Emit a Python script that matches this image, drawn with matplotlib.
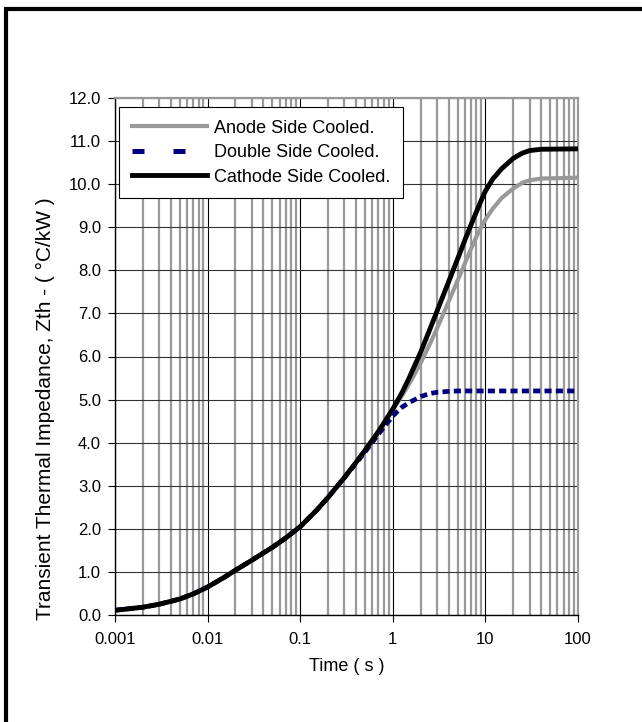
import matplotlib
matplotlib.use("Agg")
import matplotlib.pyplot as plt
from matplotlib.lines import Line2D
from matplotlib.ticker import FixedLocator, FixedFormatter, FormatStrFormatter, LogLocator

plt.rcParams['font.family'] = ['Liberation Sans', 'DejaVu Sans']

#------------------------------------------------------------------------------
# values (time in s, Zth in °C/kW)
t_common = [0.001, 0.002, 0.003, 0.005, 0.007, 0.01, 0.015, 0.02, 0.03, 0.05,
            0.07, 0.1, 0.15, 0.2, 0.3, 0.4, 0.5, 0.7]
z_common = [0.11, 0.18, 0.25, 0.37, 0.49, 0.65, 0.87, 1.04, 1.27, 1.57,
            1.79, 2.05, 2.43, 2.73, 3.19, 3.54, 3.82, 4.26]

t_anode = [1.0, 1.25, 1.5, 2.0, 2.5, 3.0, 4.0, 5.0, 6.0, 7.0, 8.0, 9.0, 10.0,
           12.0, 15.0, 20.0, 25.0, 30.0, 40.0, 100.0]
z_anode = [4.76, 5.08, 5.36, 5.85, 6.28, 6.65, 7.27, 7.76, 8.16, 8.50, 8.78, 9.00, 9.18,
           9.43, 9.68, 9.90, 10.03, 10.09, 10.13, 10.15]

t_double = [1.0, 1.25, 1.5, 2.0, 2.5, 3.0, 4.0, 5.0, 10.0, 100.0]
z_double = [4.62, 4.82, 4.93, 5.07, 5.14, 5.17, 5.19, 5.20, 5.20, 5.20]
z_double_common = [0.11, 0.18, 0.25, 0.37, 0.49, 0.65, 0.87, 1.04, 1.27, 1.57,
                   1.79, 2.05, 2.43, 2.73, 3.19, 3.52, 3.78, 4.20]

t_cathode = [1.0, 1.25, 1.5, 2.0, 2.5, 3.0, 4.0, 5.0, 6.0, 7.0, 8.0, 9.0, 10.0,
             12.0, 15.0, 20.0, 25.0, 30.0, 40.0, 100.0]
z_cathode = [4.78, 5.15, 5.50, 6.10, 6.62, 7.05, 7.73, 8.26, 8.70, 9.06, 9.36, 9.62, 9.84,
             10.12, 10.36, 10.60, 10.72, 10.78, 10.81, 10.82]

xtick_vals = [0.001, 0.01, 0.1, 1, 10, 100]
xtick_labels = ["0.001", "0.01", "0.1", "1", "10", "100"]
ytick_vals = list(range(0, 13))

#------------------------------------------------------------------------------
fig = plt.figure(figsize=(6.42, 7.22), dpi=100)
ax = fig.add_axes([115 / 642, 1 - 615 / 722, 463 / 642, 517 / 722])

# outer frame (only top and left edges are visible)
fig.add_artist(Line2D([6 / 642, 6 / 642], [0, 1 - 9 / 722], color="black", lw=3,
                      transform=fig.transFigure, solid_capstyle="butt"))
fig.add_artist(Line2D([4 / 642, 1], [1 - 9 / 722, 1 - 9 / 722], color="black", lw=3,
                      transform=fig.transFigure, solid_capstyle="butt"))

navy = "#000080"
h_anode, = ax.plot(t_common + t_anode, z_common + z_anode, color="#999999", lw=3.0,
                   zorder=3)
ax.plot(t_common + t_double, z_double_common + z_double, color=navy, lw=3.4,
        ls=(0, (1.5, 0.9)), zorder=4)
h_cathode, = ax.plot(t_common + t_cathode, z_common + z_cathode, color="black", lw=3.5,
                     zorder=5)
# legend sample of the dashed series uses the wider spacing seen in the key
h_double = Line2D([], [], color=navy, lw=3.6, ls=(0, (2.4, 5.8)))

ax.set_xscale("log")
ax.set_xlim(0.001, 100)
ax.set_ylim(0, 12)

ax.xaxis.set_major_locator(FixedLocator(xtick_vals))
ax.xaxis.set_major_formatter(FixedFormatter(xtick_labels))
ax.xaxis.set_minor_locator(LogLocator(base=10, subs=range(2, 10)))
ax.set_yticks(ytick_vals)
ax.yaxis.set_major_formatter(FormatStrFormatter("%.1f"))

ax.tick_params(which="major", direction="out", length=5, width=0.8, labelsize=12,
               colors="black")
ax.tick_params(axis="x", which="major", pad=7)
ax.tick_params(axis="y", which="major", pad=5)
ax.tick_params(which="minor", length=0)

ax.set_axisbelow(True)
ax.grid(which="minor", axis="x", color="#999999", lw=1.6)
ax.grid(which="major", axis="x", color="black", lw=0.8)
ax.grid(which="major", axis="y", color="#333333", lw=0.8)

for side in ("left", "bottom"):
    ax.spines[side].set_color("black")
    ax.spines[side].set_linewidth(1.0)
for side in ("top", "right"):
    ax.spines[side].set_color("#999999")
    ax.spines[side].set_linewidth(1.6)

ax.set_xlabel("Time ( s )", fontsize=13, labelpad=8)
ax.set_ylabel("Transient Thermal Impedance, Zth - ( °C/kW )", fontsize=15,
              ha="left", va="center", rotation_mode="anchor")
ax.yaxis.set_label_coords(-0.151, -0.01)

leg = ax.legend([h_anode, h_double, h_cathode],
                ["Anode Side Cooled.", "Double Side Cooled.", "Cathode Side Cooled."],
                loc="upper left", bbox_to_anchor=(4 / 463, 1 - 9 / 517), fontsize=13,
                handlelength=4.2, handletextpad=0.35, labelspacing=0.42,
                borderaxespad=0, fancybox=False, framealpha=1, borderpad=0.7)
leg.get_frame().set_edgecolor("black")
leg.get_frame().set_linewidth(0.8)

fig.savefig("out.png", dpi=100)
